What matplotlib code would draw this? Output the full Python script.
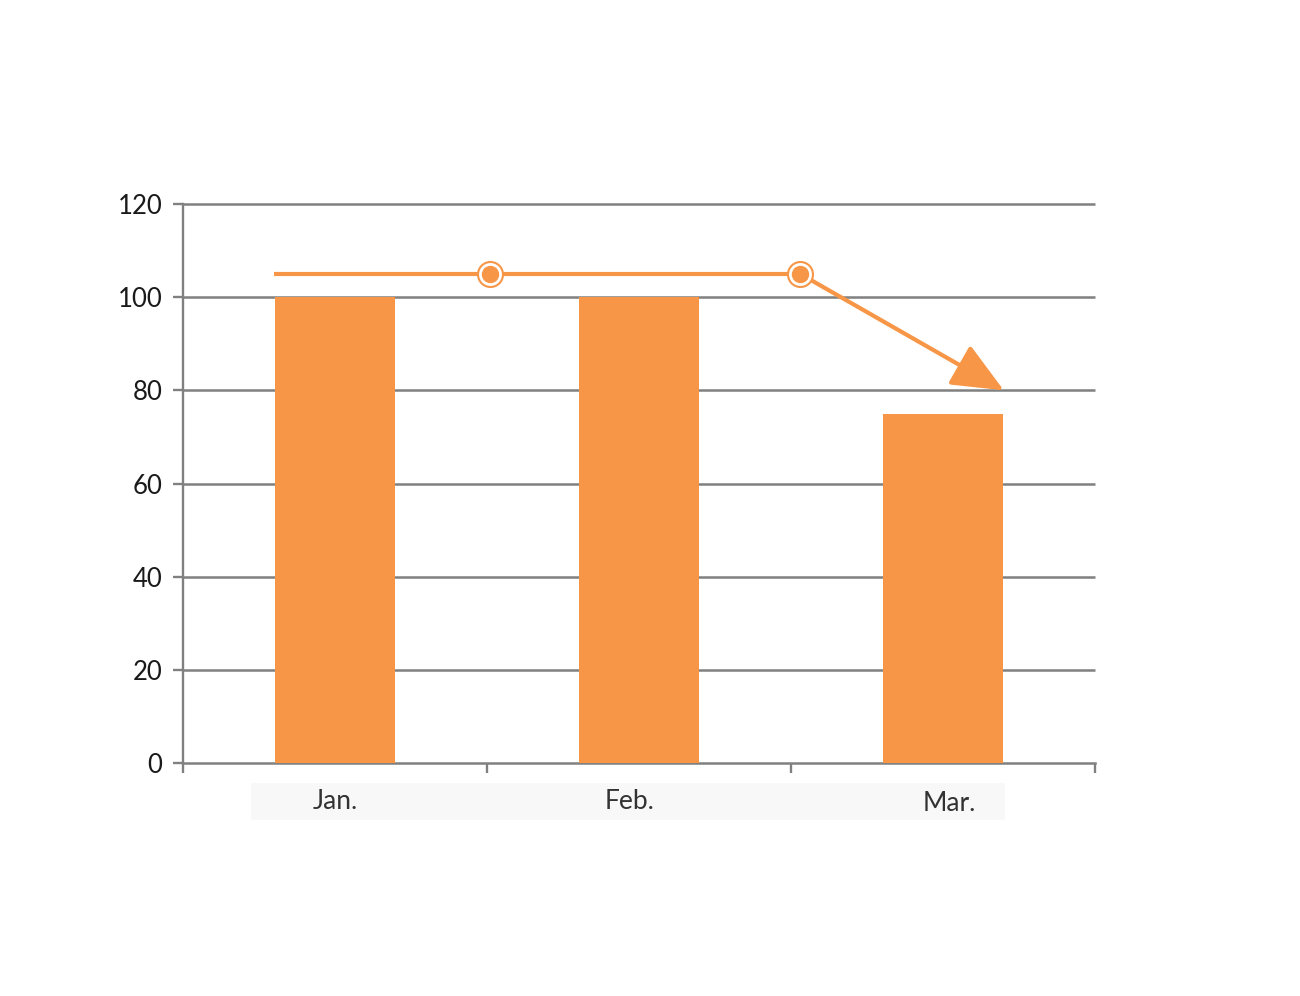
import matplotlib
matplotlib.use("Agg")
import matplotlib.pyplot as plt
from matplotlib.patches import Rectangle
import matplotlib.transforms as mtransforms

# dati del grafico
months = ["Jan.", "Feb.", "Mar."]
values = [100, 100, 75]
y_ticks = [0, 20, 40, 60, 80, 100, 120]

# linea di tendenza (coordinate dati)
trend_x = [-0.2, 0.51, 1.53]
trend_y = [105, 105, 105]
arrow_end = (2.2, 80)

orange = "#F79646"
grid_gray = "#808080"

fig = plt.figure(figsize=(13, 9.96), dpi=100)
ax = fig.add_axes([0.1408, 0.2339, 0.7015, 0.5613])

ax.bar(range(len(months)), values, width=0.395, color=orange, zorder=3)

ax.set_xlim(-0.5, 2.5)
ax.set_ylim(0, 120)
ax.set_yticks(y_ticks)
ax.set_yticklabels([str(v) for v in y_ticks], fontsize=18.5, family="Lato", color="#1a1a1a")
ax.set_xticks([-0.5, 0.5, 1.5, 2.5])
ax.set_xticklabels([])
ax.tick_params(axis="both", length=7, width=1.7, color=grid_gray)
ax.tick_params(axis="y", pad=8)

# linee orizzontali della griglia (anche quella a 120, non tagliata)
for v in y_ticks[1:]:
    ax.axhline(v, color=grid_gray, lw=1.8, zorder=1, clip_on=False,
               solid_capstyle="butt")

for s in ["top", "right"]:
    ax.spines[s].set_visible(False)
ax.spines["left"].set_color(grid_gray)
ax.spines["left"].set_linewidth(1.7)
ax.spines["bottom"].set_color(grid_gray)
ax.spines["bottom"].set_linewidth(1.8)

# linea con marcatori
ax.plot(trend_x, trend_y, color=orange, lw=3, zorder=4, solid_capstyle="butt")
ax.plot(trend_x[1:], trend_y[1:], ls="none", marker="o", ms=18, mfc="white",
        mec=orange, mew=1.5, zorder=5)
ax.plot(trend_x[1:], trend_y[1:], ls="none", marker="o", ms=11.5, mfc=orange,
        mec=orange, zorder=6)
ax.annotate("", xy=arrow_end, xytext=(trend_x[-1], trend_y[-1]),
            arrowprops=dict(arrowstyle="-|>,head_length=32,head_width=14",
                            mutation_scale=1, lw=3, color=orange,
                            shrinkA=6, shrinkB=0), zorder=4)

# etichette dei mesi su fondo grigio chiaro
trans = mtransforms.blended_transform_factory(ax.transData, ax.transAxes)
ax.add_patch(Rectangle((-0.276, -0.102), 2.48, 0.066, transform=trans,
                       facecolor="#f8f8f8", edgecolor="none", clip_on=False))
label_x = [0.0, 0.97, 2.02]
label_y = [-0.069, -0.069, -0.073]
for lx, ly, m in zip(label_x, label_y, months):
    ax.text(lx, ly, m, transform=trans, ha="center", va="center",
            fontsize=19, family="Lato", color="#333333")

fig.savefig("out.png", dpi=100)
